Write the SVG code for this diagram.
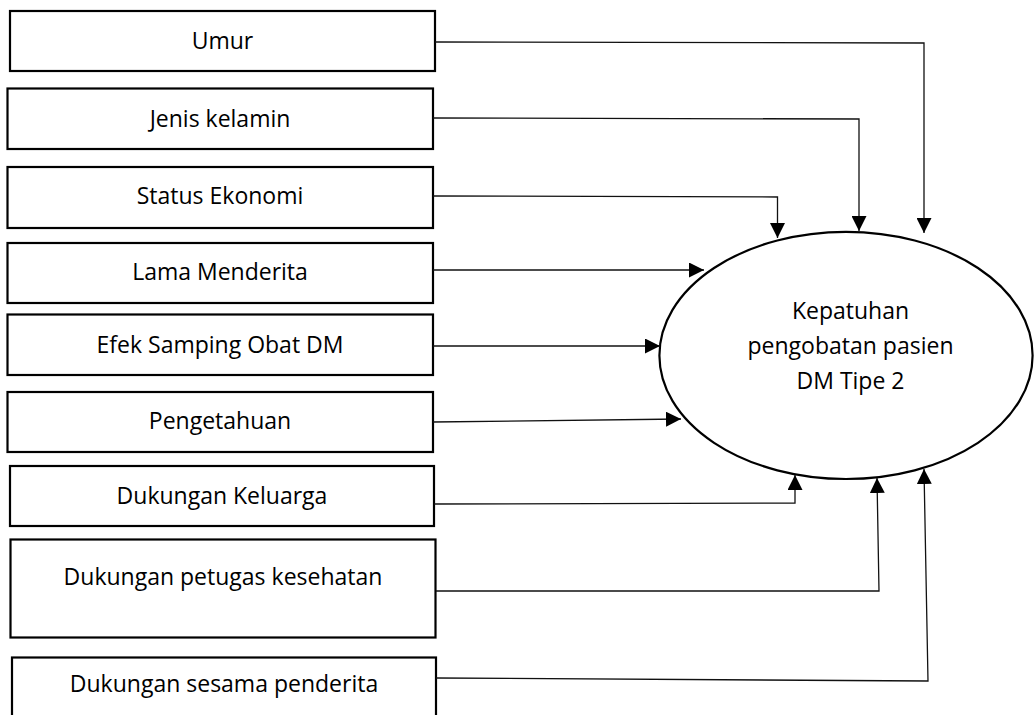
<svg xmlns="http://www.w3.org/2000/svg" width="1034" height="715" viewBox="0 0 1034 715">
<style>
.box{fill:#fff;stroke:#000;stroke-width:2.2}
.lbl{font-family:"Open Sans","Liberation Sans",sans-serif;font-size:23px;fill:#000;text-anchor:middle}
.con{fill:none;stroke:#111;stroke-width:1.3;marker-end:url(#ah)}
</style>
<defs>
<marker id="ah" markerUnits="userSpaceOnUse" markerWidth="15" markerHeight="15" viewBox="0 0 15 15" refX="15" refY="7.5" orient="auto">
<path d="M0,0 L15,7.5 L0,15 z" fill="#000"/>
</marker>
</defs>
<rect width="1034" height="715" fill="#fff"/>
<g id="n-umur"><rect class="box" x="10" y="11" width="425" height="60"/><text class="lbl" x="222.5" y="48.5">Umur</text></g>
<g id="n-jenis"><rect class="box" x="7.5" y="88.5" width="425.5" height="60.5"/><text class="lbl" x="220" y="127">Jenis kelamin</text></g>
<g id="n-status"><rect class="box" x="7.5" y="167" width="425.5" height="61"/><text class="lbl" x="220" y="204">Status Ekonomi</text></g>
<g id="n-lama"><rect class="box" x="7.5" y="243" width="425.5" height="60"/><text class="lbl" x="220" y="280">Lama Menderita</text></g>
<g id="n-efek"><rect class="box" x="7.5" y="314.5" width="425.5" height="60.5"/><text class="lbl" x="220" y="353">Efek Samping Obat DM</text></g>
<g id="n-pengetahuan"><rect class="box" x="7.5" y="392" width="425.5" height="60"/><text class="lbl" x="220" y="428.5">Pengetahuan</text></g>
<g id="n-keluarga"><rect class="box" x="10" y="466" width="424" height="60"/><text class="lbl" x="222" y="503.5">Dukungan Keluarga</text></g>
<g id="n-petugas"><rect class="box" x="10.5" y="539.5" width="425" height="98"/><text class="lbl" x="223" y="585">Dukungan petugas kesehatan</text></g>
<g id="n-sesama"><rect class="box" x="12" y="657.5" width="424" height="70"/><text class="lbl" x="224" y="691.5">Dukungan sesama penderita</text></g>
<g id="n-kepatuhan"><ellipse cx="846" cy="355.4" rx="186.6" ry="123.6" fill="#fff" stroke="#000" stroke-width="2.2"/>
<text class="lbl" x="850.5" y="318.5">Kepatuhan</text>
<text class="lbl" x="850.5" y="354">pengobatan pasien</text>
<text class="lbl" x="850.5" y="388.5">DM Tipe 2</text></g>
<g id="connectors">
<path class="con" d="M435,42 L924,43 L924,233"/>
<path class="con" d="M433,118 L859,119 L859,231"/>
<path class="con" d="M433,196 L777.5,197 L777.5,238"/>
<path class="con" d="M433,270 L704,270"/>
<path class="con" d="M433,346 L660,346"/>
<path class="con" d="M433,422 L681,419"/>
<path class="con" d="M434,504 L795,503 L795,475"/>
<path class="con" d="M436,591 L879,591 L877,478"/>
<path class="con" d="M436,678 L928,681 L924,469"/>
</g>
</svg>
